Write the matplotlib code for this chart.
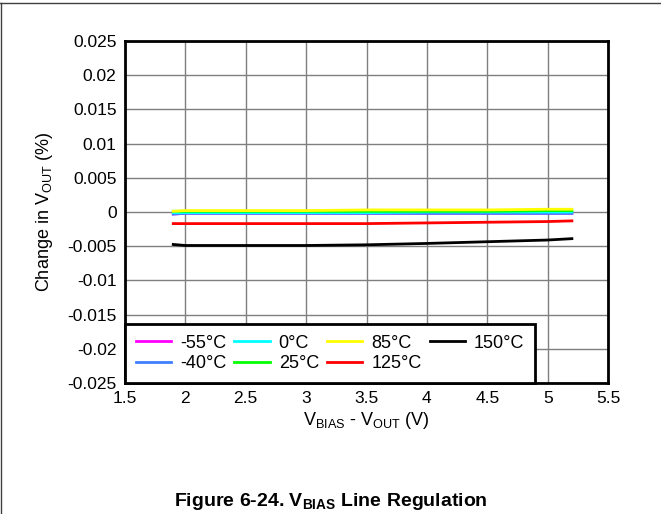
import matplotlib
matplotlib.use('Agg')
import matplotlib.pyplot as plt
from matplotlib.lines import Line2D

plt.rcParams['font.family'] = ['Liberation Sans', 'DejaVu Sans']
plt.rcParams['mathtext.fontset'] = 'custom'
plt.rcParams['mathtext.rm'] = 'Liberation Sans'
plt.rcParams['mathtext.it'] = 'Liberation Sans'
plt.rcParams['mathtext.bf'] = 'Liberation Sans:bold'

# 数据 (VBIAS - VOUT, 单位 V)
vdiff = [1.9, 2.0, 2.5, 3.0, 3.5, 4.0, 4.5, 5.0, 5.2]
chg_m55 = [-0.0003, -0.0002, -0.0002, -0.0002, -0.0002, -0.0002, -0.0002, -0.0002, -0.0002]
chg_m40 = [-0.0003, -0.0002, -0.0002, -0.0002, -0.0002, -0.0002, -0.0002, -0.0002, -0.0002]
chg_0 = [-0.0001, -0.0001, -0.0001, -0.0001, -0.0001, 0.0, 0.0, 0.0, 0.0]
chg_25 = [0.0001, 0.0001, 0.0001, 0.0001, 0.0001, 0.0001, 0.0001, 0.0002, 0.0002]
chg_85 = [0.0001, 0.0002, 0.0002, 0.0002, 0.0003, 0.0003, 0.0003, 0.0004, 0.0004]
chg_125 = [-0.0017, -0.0017, -0.0017, -0.0017, -0.0017, -0.0016, -0.0015, -0.0014, -0.0013]
chg_150 = [-0.00475, -0.0049, -0.0049, -0.0049, -0.0048, -0.0046, -0.00435, -0.0041, -0.0039]

labels = ['-55°C', '-40°C', '0°C', '25°C', '85°C', '125°C', '150°C']
colors = ['#FF00FF', '#3F7FFF', '#00FFFF', '#00FF00', '#FFFF00', '#FF0000', '#000000']
series = [chg_m55, chg_m40, chg_0, chg_25, chg_85, chg_125, chg_150]

fig = plt.figure(figsize=(6.61, 5.14), dpi=100)
ax = fig.add_axes([0.189, 0.2549, 0.731, 0.6654])

for y, c, lab in zip(series, colors, labels):
    ax.plot(vdiff, y, color=c, lw=2, label=lab)

ax.set_xlim(1.5, 5.5)
ax.set_ylim(-0.025, 0.025)
ax.set_xticks([1.5, 2, 2.5, 3, 3.5, 4, 4.5, 5, 5.5])
ax.set_xticklabels(['1.5', '2', '2.5', '3', '3.5', '4', '4.5', '5', '5.5'])
ax.set_yticks([0.025, 0.02, 0.015, 0.01, 0.005, 0, -0.005, -0.01, -0.015, -0.02, -0.025])
ax.set_yticklabels(['0.025', '0.02', '0.015', '0.01', '0.005', '0', '-0.005', '-0.01',
                    '-0.015', '-0.02', '-0.025'])
ax.tick_params(length=0, labelsize=12.5, pad=6)
ax.grid(True, color='#7f7f7f', lw=1)
for s in ax.spines.values():
    s.set_linewidth(2)
    s.set_color('black')

ax.set_xlabel('V$_{BIAS}$ - V$_{OUT}$ (V)', fontsize=13, labelpad=3)
ax.set_ylabel('Change in V$_{OUT}$ (%)', fontsize=13, labelpad=9)

leg = ax.legend(ncol=4, loc='lower left', bbox_to_anchor=(0, 0, 0.849, 0.178),
                mode='expand', borderaxespad=0, fontsize=13, handlelength=1.95,
                handletextpad=0.5, columnspacing=0.6, labelspacing=0.2,
                borderpad=0.6, fancybox=False, framealpha=1)
leg.get_frame().set_edgecolor('black')
leg.get_frame().set_linewidth(2)

fig.text(0.5, 0.016, 'Figure 6-24. V$_{\\mathbf{BIAS}}$ Line Regulation', ha='center',
         fontsize=14, fontweight='bold')

# 页面边框
fig.add_artist(Line2D([0, 1], [0.994, 0.994], color='#404040', lw=1))
fig.add_artist(Line2D([0.001, 0.001], [0, 0.994], color='#404040', lw=1))

fig.savefig('out.png', dpi=100)
